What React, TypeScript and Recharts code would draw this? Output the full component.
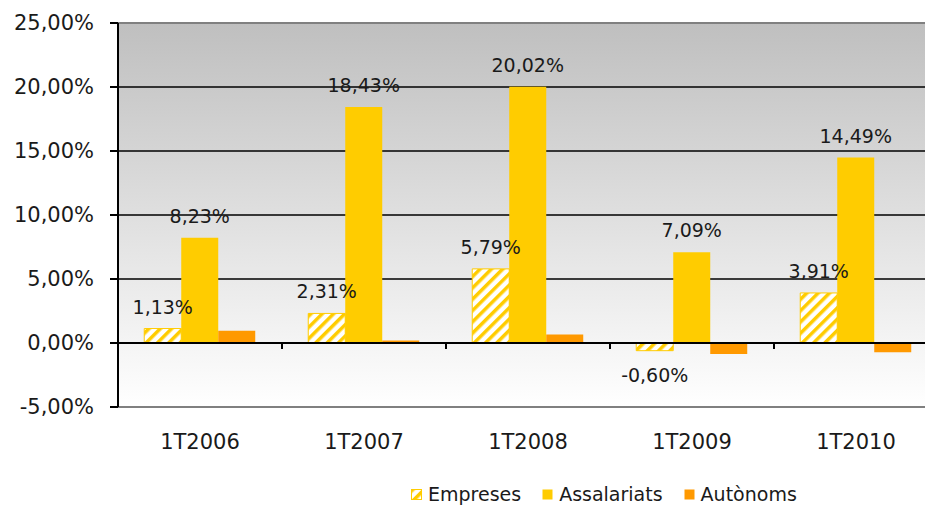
// Quarterly growth by group (Empreses / Assalariats / Autònoms), grouped bars
// on a grey-to-white gradient plot, Excel-style.
import {
  BarChart,
  Bar,
  XAxis,
  YAxis,
  CartesianGrid,
  ReferenceLine,
  LabelList,
} from 'recharts';

const CATEGORIES = ['1T2006', '1T2007', '1T2008', '1T2009', '1T2010'];
const EMPRESES = [1.13, 2.31, 5.79, -0.6, 3.91];
const ASSALARIATS = [8.23, 18.43, 20.02, 7.09, 14.49];
const AUTONOMS = [0.95, 0.2, 0.66, -0.85, -0.72];
const Y_TICKS = [-5, 0, 5, 10, 15, 20, 25];

const YELLOW = '#FFCC00';
const ORANGE = '#FF9900';
const FONT = 'Verdana, "DejaVu Sans", sans-serif';

const data = CATEGORIES.map((cat, i) => ({
  cat,
  empreses: EMPRESES[i],
  assalariats: ASSALARIATS[i],
  autonoms: AUTONOMS[i],
}));

const fmt = (v: number) => v.toFixed(2).replace('.', ',') + '%';

const ValueLabel = (props: any) => {
  const { x, y, width, height, value } = props;
  const top = Math.min(y, y + height);
  const bottom = Math.max(y, y + height);
  const cy = value < 0 ? bottom + 24 : top - 22;
  return (
    <text
      x={x + width / 2}
      y={cy}
      textAnchor="middle"
      dominantBaseline="central"
      fontFamily={FONT}
      fontSize={19}
      fill="#1a1a1a"
    >
      {fmt(value)}
    </text>
  );
};

const ZeroLine = (props: any) => {
  const { x1, y1, x2, y2 } = props;
  const step = (x2 - x1) / CATEGORIES.length;
  return (
    <g>
      <line x1={x1} y1={y1} x2={x2} y2={y2} stroke="#000" strokeWidth={2} />
      {CATEGORIES.slice(1).map((c, k) => (
        <line
          key={c}
          x1={x1 + step * (k + 1)}
          x2={x1 + step * (k + 1)}
          y1={y1}
          y2={y1 + 6}
          stroke="#000"
          strokeWidth={2}
        />
      ))}
    </g>
  );
};

const Hatch = ({ id }: { id: string }) => (
  <pattern
    id={id}
    width="8"
    height="8"
    patternUnits="userSpaceOnUse"
    patternTransform="rotate(45)"
  >
    <rect width="8" height="8" fill="#fff" />
    <rect width="3.5" height="8" fill={YELLOW} />
  </pattern>
);

const LEGEND = [
  { name: 'Empreses', fill: 'url(#hatchLegend)' },
  { name: 'Assalariats', fill: YELLOW },
  { name: 'Autònoms', fill: ORANGE },
];

export default function App() {
  return (
    <div
      style={{
        position: 'absolute',
        left: 0,
        top: 0,
        width: 925,
        height: 507,
        overflow: 'hidden',
        background: '#fff',
      }}
    >
      <BarChart
        width={940}
        height={507}
        data={data}
        margin={{ top: 23, right: 2, bottom: 70, left: 0 }}
        barCategoryGap="16%"
        barGap={0}
      >
        <defs>
          <linearGradient id="bg" x1="0" y1="0" x2="0" y2="1">
            <stop offset="0%" stopColor="#BFBFBF" />
            <stop offset="100%" stopColor="#FFFFFF" />
          </linearGradient>
          <Hatch id="hatch" />
        </defs>
        <CartesianGrid vertical={false} stroke="#000" strokeWidth={1.5} fill="url(#bg)" />
        <XAxis
          dataKey="cat"
          height={30}
          tickSize={0}
          tickMargin={27}
          tickLine={false}
          axisLine={{ stroke: '#808080', strokeWidth: 2 }}
          tick={{ fill: '#1a1a1a', fontSize: 21, fontFamily: FONT }}
        />
        <YAxis
          width={118}
          domain={[-5, 25]}
          ticks={Y_TICKS}
          interval={0}
          tickFormatter={fmt}
          tickSize={8}
          tickMargin={16}
          axisLine={{ stroke: '#000', strokeWidth: 2 }}
          tickLine={{ stroke: '#000', strokeWidth: 2 }}
          tick={{ fill: '#1a1a1a', fontSize: 21, fontFamily: FONT }}
        />
        <ReferenceLine y={25} stroke="#808080" strokeWidth={2} />
        <Bar
          dataKey="empreses"
          fill="url(#hatch)"
          stroke={YELLOW}
          strokeWidth={1}
          isAnimationActive={false}
        >
          <LabelList dataKey="empreses" content={ValueLabel} />
        </Bar>
        <Bar dataKey="assalariats" fill={YELLOW} isAnimationActive={false}>
          <LabelList dataKey="assalariats" content={ValueLabel} />
        </Bar>
        <Bar dataKey="autonoms" fill={ORANGE} isAnimationActive={false} />
        <ReferenceLine y={0} shape={ZeroLine} />
      </BarChart>

      <div
        style={{
          position: 'absolute',
          left: 411,
          top: 483,
          display: 'flex',
          alignItems: 'center',
          fontFamily: FONT,
          fontSize: 19,
          color: '#1a1a1a',
          whiteSpace: 'nowrap',
        }}
      >
        <svg width={0} height={0} style={{ position: 'absolute' }}>
          <defs>
            <Hatch id="hatchLegend" />
          </defs>
        </svg>
        {LEGEND.map((item) => (
          <div
            key={item.name}
            style={{ display: 'flex', alignItems: 'center', marginRight: 21 }}
          >
            <svg width={11} height={11} style={{ marginRight: 6 }}>
              <rect
                x={0.5}
                y={0.5}
                width={10}
                height={10}
                fill={item.fill}
                stroke={item.name === 'Empreses' ? YELLOW : 'none'}
              />
            </svg>
            <span>{item.name}</span>
          </div>
        ))}
      </div>
    </div>
  );
}
